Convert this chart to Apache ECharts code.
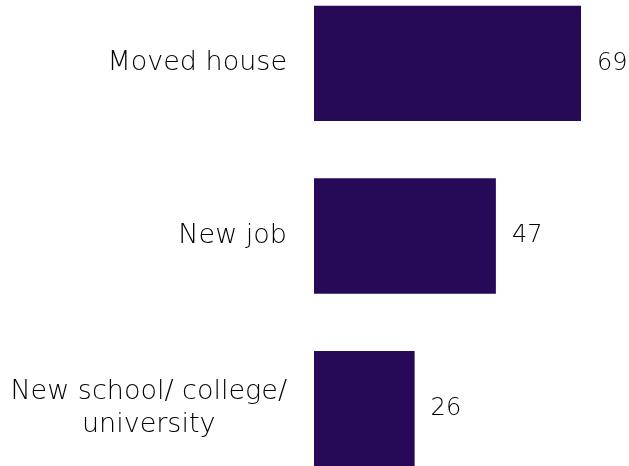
<!DOCTYPE html>
<html>
<head>
<meta charset="utf-8">
<script src="https://cdn.jsdelivr.net/npm/echarts@6/dist/echarts.min.js"></script>
<style>
  html, body { margin: 0; padding: 0; background: #ffffff; overflow: hidden; width: 629px; height: 466px; }
  /* the plot runs a little past the top and bottom edges of the page */
  #chart { position: absolute; left: 0; top: -23px; width: 629px; height: 518px; }
</style>
</head>
<body>
<div id="chart"></div>
<script>
// Reasons for change, counts per category
const categories = ['Moved house', 'New job', 'New school/ college/\nuniversity'];
const values = [69, 47, 26];

const chart = echarts.init(document.getElementById('chart'), null, { renderer: 'canvas' });

const FONT = 'DejaVu Sans';
const TEXT = '#000000';

chart.setOption({
  animation: false,
  backgroundColor: 'transparent',
  grid: { left: 314, right: 0, top: 0, bottom: 0, containLabel: false },
  xAxis: {
    type: 'value',
    min: 0,
    max: 81.4,
    show: false
  },
  yAxis: {
    type: 'category',
    inverse: true,
    data: categories,
    axisLine: { show: false },
    axisTick: { show: false },
    splitLine: { show: false },
    axisLabel: {
      margin: 27,
      fontFamily: FONT,
      fontWeight: 200,
      fontSize: 27,
      color: TEXT,
      lineHeight: 33,
      formatter: function (v) {
        return v.split('\n').map(function (l) { return '{c|' + l + '}'; }).join('\n');
      },
      rich: {
        c: { align: 'center', fontFamily: FONT, fontWeight: 200, fontSize: 27, color: TEXT, lineHeight: 33 }
      }
    }
  },
  series: [{
    type: 'bar',
    data: values,
    barCategoryGap: '33.2%',
    itemStyle: { color: '#260a58' },
    label: {
      show: true,
      position: 'right',
      distance: 16,
      fontFamily: FONT,
      fontWeight: 200,
      fontSize: 24,
      color: TEXT
    }
  }]
});
</script>
</body>
</html>
